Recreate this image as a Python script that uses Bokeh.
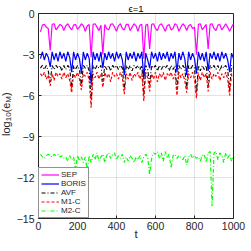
from bokeh.plotting import figure
from bokeh.models import Range1d, FixedTicker, Legend, LegendItem, Div
from bokeh.layouts import row
from bokeh.embed import file_html
from bokeh.resources import INLINE

t = list(range(10, 1001, 10))

sep = [-1.35, -0.85, -0.8, -1.0, -1.1, -2.7, -0.8, -0.75, -1.2, -1.0,
       -0.8, -0.9, -1.25, -0.9, -0.75, -1.0, -1.2, -0.85, -0.8, -1.15,
       -1.0, -0.75, -0.9, -1.3, -0.9, -0.8, -3.2, -0.8, -0.75, -1.0,
       -1.25, -0.85, -3.0, -0.8, -1.1, -1.2, -0.8, -0.75, -1.0, -1.3,
       -0.9, -0.75, -1.1, -1.2, -0.8, -0.8, -1.25, -1.0, -0.75, -0.9,
       -1.3, -0.85, -0.8, -3.3, -0.85, -0.8, -2.6, -0.8, -0.75, -1.1,
       -1.25, -0.85, -0.75, -1.0, -1.3, -0.9, -0.8, -1.2, -1.1, -0.75,
       -0.85, -1.3, -1.0, -0.75, -0.9, -1.25, -0.9, -0.8, -1.1, -1.0,
       -3.0, -0.8, -0.75, -1.2, -1.0, -0.8, -2.6, -0.8, -0.75, -1.1,
       -1.25, -0.85, -0.8, -1.2, -1.0, -0.75, -1.0, -1.3, -1.0, -0.75]

boris = [-3.3, -2.8, -3.4, -2.9, -3.2, -3.9, -2.8, -3.4, -2.9, -3.5,
         -2.8, -3.3, -2.9, -3.5, -2.8, -3.2, -4.3, -2.8, -3.4, -2.9,
         -3.3, -4.4, -2.8, -3.4, -2.9, -3.3, -5.2, -2.8, -3.4, -2.9,
         -3.5, -2.8, -4.0, -2.9, -3.4, -2.8, -3.3, -2.9, -3.5, -2.8,
         -3.3, -2.9, -3.4, -4.5, -2.8, -3.4, -2.9, -3.3, -2.8, -3.5,
         -2.9, -3.3, -2.8, -4.8, -2.9, -3.4, -4.0, -2.8, -3.3, -2.9,
         -3.5, -2.8, -3.4, -2.9, -3.3, -2.8, -3.5, -2.9, -3.3, -2.8,
         -4.3, -2.9, -3.4, -2.8, -3.3, -4.5, -2.8, -3.4, -2.9, -3.3,
         -4.4, -2.8, -3.4, -2.9, -3.5, -2.8, -4.2, -2.9, -3.3, -2.8,
         -3.4, -2.9, -3.5, -2.8, -3.3, -2.9, -3.4, -4.3, -2.9, -3.3]

avf = [-4.0, -3.8, -4.1, -3.8, -4.2, -5.0, -3.8, -4.1, -3.8, -4.0,
       -3.8, -4.2, -3.8, -4.1, -3.8, -4.0, -5.5, -3.8, -4.1, -3.8,
       -4.1, -5.3, -3.8, -4.0, -3.8, -4.2, -6.3, -3.8, -4.1, -3.8,
       -4.0, -3.8, -5.0, -3.8, -4.1, -3.8, -4.2, -3.8, -4.0, -3.8,
       -4.1, -3.8, -4.0, -5.6, -3.8, -4.1, -3.8, -4.2, -3.8, -4.0,
       -3.8, -4.1, -3.8, -6.0, -3.8, -4.1, -5.2, -3.8, -4.0, -3.8,
       -4.2, -3.8, -4.1, -3.8, -4.0, -3.8, -4.2, -3.8, -4.1, -3.8,
       -5.6, -3.8, -4.1, -3.8, -4.0, -5.5, -3.8, -4.1, -3.8, -4.0,
       -5.8, -3.8, -4.2, -3.8, -4.1, -3.8, -5.3, -3.8, -4.0, -3.8,
       -4.1, -3.8, -4.2, -3.8, -4.0, -3.8, -4.1, -5.6, -3.8, -4.0]

m1c = [-4.4, -4.6, -4.3, -4.8, -4.5, -5.3, -4.4, -4.9, -4.3, -4.6,
       -4.4, -4.8, -4.3, -4.7, -4.4, -4.9, -5.8, -4.4, -4.7, -4.3,
       -4.8, -5.6, -4.4, -4.6, -4.3, -4.9, -6.9, -4.4, -4.7, -4.3,
       -4.8, -4.4, -5.4, -4.3, -4.7, -4.4, -5.0, -4.3, -4.6, -4.4,
       -4.8, -4.3, -4.7, -5.9, -4.4, -4.8, -4.3, -4.9, -4.4, -4.6,
       -4.3, -4.8, -4.4, -6.4, -4.3, -4.7, -5.7, -4.4, -4.8, -4.3,
       -5.0, -4.4, -4.7, -4.3, -4.9, -4.4, -4.6, -4.3, -4.8, -4.4,
       -6.0, -4.3, -4.7, -4.4, -4.9, -5.8, -4.4, -4.7, -4.3, -4.8,
       -6.2, -4.4, -4.9, -4.3, -4.7, -4.4, -5.7, -4.3, -4.8, -4.4,
       -4.6, -4.3, -4.9, -4.4, -4.7, -4.3, -4.8, -6.0, -4.4, -4.6]

m2c = [-10.3, -10.5, -10.6, -10.4, -10.3, -10.4, -10.5, -10.3, -10.4, -10.3,
       -10.5, -10.4, -10.6, -10.5, -10.8, -10.4, -10.7, -10.5, -11.4, -10.4,
       -10.8, -10.5, -10.9, -10.5, -11.5, -10.4, -10.9, -10.3, -10.7, -10.2,
       -10.8, -10.5, -10.3, -10.9, -10.4, -10.2, -10.6, -10.3, -10.2, -10.7,
       -10.4, -10.6, -10.3, -10.9, -10.5, -10.8, -10.4, -10.6, -10.9, -10.5,
       -10.7, -10.4, -10.9, -10.5, -10.3, -10.5, -11.8, -10.6, -10.2, -10.3,
       -10.1, -10.6, -10.2, -10.8, -10.1, -10.6, -10.3, -11.3, -10.4, -10.3,
       -10.6, -10.4, -10.5, -10.7, -10.4, -11.1, -10.5, -10.3, -10.6, -10.4,
       -10.6, -10.5, -10.8, -10.4, -10.3, -10.9, -10.2, -10.1, -14.1, -10.2,
       -10.1, -10.7, -10.2, -10.4, -10.9, -10.2, -10.6, -10.3, -10.8, -10.4]

series_names = ["SEP", "BORIS", "AVF", "M1-C", "M2-C"]
x_ticks = [0, 200, 400, 600, 800, 1000]
y_ticks = [-15, -12, -9, -6, -3, 0]
title_text = "\u03f5=1"
x_label = "t"
y_label_html = "log<sub style=\"font-size:8px\">10</sub>(e<sub style=\"font-size:8px\">M</sub>)"

FONT = "Liberation Sans"
INK = "#262626"
H = 250

p = figure(frame_width=195, frame_height=205, output_backend="svg",
           toolbar_location=None,
           x_range=Range1d(0, 1000), y_range=Range1d(-15, 0),
           min_border_left=22, min_border_right=13, min_border_top=0,
           min_border_bottom=28, margin=0,
           styles={"flex-shrink": "0"})
p.background_fill_color = "white"
p.border_fill_color = "white"
p.outline_line_color = INK
p.outline_line_alpha = 1
p.outline_line_width = 1

p.title.text = title_text
p.title.align = "center"
p.title.text_font = FONT
p.title.text_font_size = "9.5px"
p.title.text_font_style = "normal"
p.title.text_color = "black"
p.title.standoff = 0

p.xaxis.ticker = FixedTicker(ticks=x_ticks)
p.yaxis.ticker = FixedTicker(ticks=y_ticks)
for ax in (p.xaxis, p.yaxis):
    ax.axis_line_color = None
    ax.major_tick_in = 3
    ax.major_tick_out = 0
    ax.major_tick_line_color = INK
    ax.minor_tick_line_color = None
    ax.major_label_text_font = FONT
    ax.major_label_text_font_size = "10.5px"
    ax.major_label_text_color = INK
p.xaxis.major_label_standoff = 3
p.yaxis.major_label_standoff = 4
p.xaxis.axis_label = x_label
p.xaxis.axis_label_text_font = FONT
p.xaxis.axis_label_text_font_size = "11.5px"
p.xaxis.axis_label_text_font_style = "normal"
p.xaxis.axis_label_text_color = INK
p.xaxis.axis_label_standoff = -5

p.grid.grid_line_color = INK
p.grid.grid_line_alpha = 0.13

r_sep = p.line(t, sep, line_color="#ff00ff", line_width=1.2)
r_boris = p.line(t, boris, line_color="#0000ff", line_width=1.2)
r_avf = p.line(t, avf, line_color="black", line_width=1.1, line_dash="4 2 1 2")
r_m1 = p.line(t, m1c, line_color="#ff0000", line_width=1.2, line_dash="3 2")
r_m2 = p.line(t, m2c, line_color="#00ff00", line_width=1.2, line_dash="4 2 1 2")

legend = Legend(items=[LegendItem(label=n, renderers=[r]) for n, r in
                       zip(series_names, [r_sep, r_boris, r_avf, r_m1, r_m2])],
                location="bottom_left", margin=0, padding=2, spacing=0,
                glyph_width=18, glyph_height=9, label_height=9,
                label_standoff=2, label_text_font=FONT,
                label_text_font_size="8px", label_text_color=INK,
                border_line_color=INK, border_line_width=1,
                background_fill_color="white", background_fill_alpha=1)
p.add_layout(legend)

ylab = Div(width=13, height=H, margin=0,
           styles={"flex-shrink": "0"},
           text=("<div style=\"height:204px;margin-top:12px;writing-mode:vertical-rl;"
                 "transform:rotate(180deg);text-align:center;"
                 "font-family:'Liberation Sans';font-size:11px;color:#262626;"
                 "line-height:13px;white-space:nowrap;\">" + y_label_html + "</div>"))

layout = row(ylab, p, margin=0)
open("out.html", "w").write(file_html(layout, INLINE))
